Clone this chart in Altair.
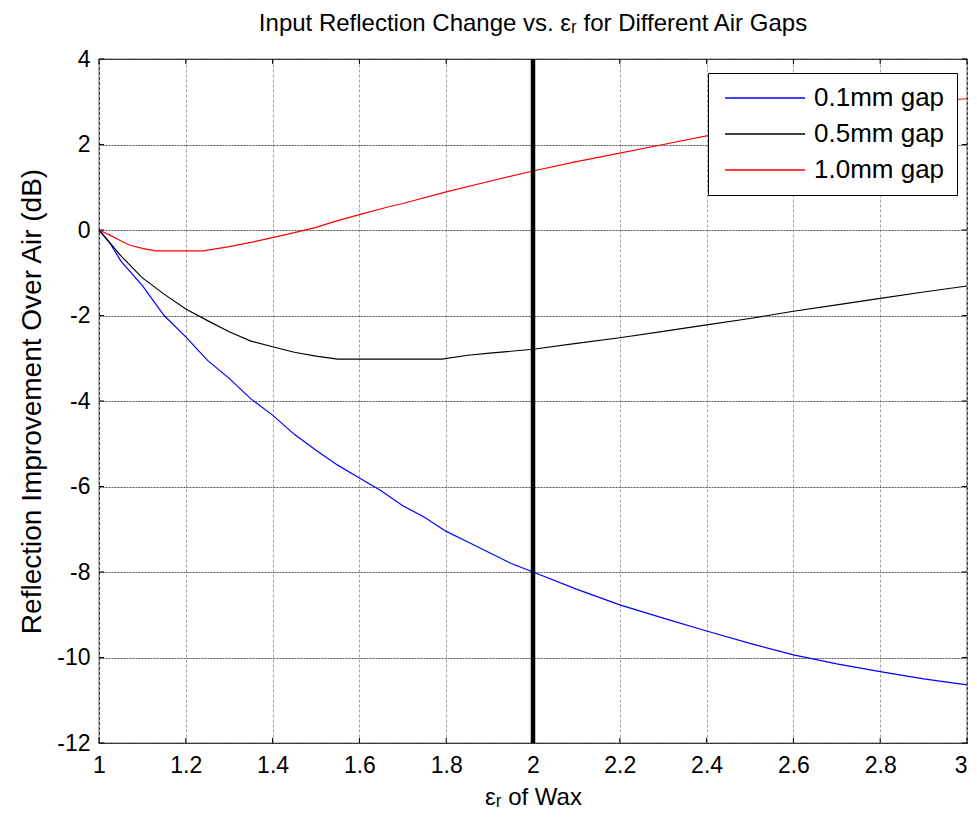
import altair as alt
import pandas as pd

# ---- data ----
x_01 = [1.0, 1.025, 1.05, 1.1, 1.15, 1.2, 1.25, 1.3, 1.35, 1.4, 1.45, 1.5, 1.55, 1.6, 1.65,
        1.7, 1.75, 1.8, 1.85, 1.9, 1.95, 2.0, 2.1, 2.2, 2.3, 2.4, 2.5, 2.6, 2.7, 2.8, 2.9, 3.0]
y_01 = [0.0, -0.3, -0.72, -1.3, -2.0, -2.5, -3.05, -3.47, -3.95, -4.33, -4.78, -5.15, -5.5, -5.8, -6.1,
        -6.45, -6.72, -7.05, -7.3, -7.55, -7.8, -8.0, -8.4, -8.77, -9.08, -9.38, -9.67, -9.94, -10.15, -10.33, -10.5, -10.64]

x_05 = [1.0, 1.05, 1.1, 1.15, 1.2, 1.25, 1.3, 1.35, 1.4, 1.45, 1.5, 1.55, 1.6, 1.7, 1.79,
        1.85, 1.9, 2.0, 2.1, 2.2, 2.3, 2.4, 2.5, 2.6, 2.7, 2.8, 2.9, 3.0]
y_05 = [0.0, -0.6, -1.12, -1.5, -1.85, -2.12, -2.38, -2.6, -2.73, -2.86, -2.95, -3.02, -3.02, -3.02, -3.02,
        -2.93, -2.88, -2.79, -2.65, -2.52, -2.37, -2.22, -2.07, -1.9, -1.75, -1.6, -1.45, -1.31]

x_10 = [1.0, 1.025, 1.05, 1.07, 1.1, 1.13, 1.24, 1.3, 1.35, 1.4, 1.45, 1.5, 1.55, 1.6, 1.67,
        1.7, 1.8, 1.9, 2.0, 2.1, 2.2, 2.3, 2.4, 2.5, 2.6, 2.7, 2.8, 2.9, 3.0]
y_10 = [0.0, -0.12, -0.25, -0.35, -0.43, -0.49, -0.49, -0.39, -0.29, -0.18, -0.06, 0.06, 0.22, 0.36, 0.55,
        0.62, 0.89, 1.14, 1.38, 1.6, 1.8, 2.0, 2.2, 2.4, 2.58, 2.75, 2.9, 3.0, 3.07]

series_names = ["0.1mm gap", "0.5mm gap", "1.0mm gap"]
series_colors = ["#0000ff", "#000000", "#ff0000"]

x_ticks = [1, 1.2, 1.4, 1.6, 1.8, 2, 2.2, 2.4, 2.6, 2.8, 3]
y_ticks = [-12, -10, -8, -6, -4, -2, 0, 2, 4]
marker_x = [2]

X_MIN, X_MAX = 1, 3
Y_MIN, Y_MAX = -12, 4

rows = []
for name, xs, ys in zip(series_names, [x_01, x_05, x_10], [y_01, y_05, y_10]):
    for i, (a, b) in enumerate(zip(xs, ys)):
        rows.append({"series": name, "order": i, "x": a, "y": b})
df = pd.DataFrame(rows)

FONT = "Arial"
xscale = alt.Scale(domain=[X_MIN, X_MAX], nice=False, zero=False)
yscale = alt.Scale(domain=[Y_MIN, Y_MAX], nice=False, zero=False)

x_axis = alt.Axis(values=x_ticks, format="~g", title="\u03b5\u1d63 of Wax",
                  grid=True, gridColor="#a0a0a0", gridDash=[3, 2], gridWidth=1,
                  tickSize=0, domain=False, labelPadding=11, labelFontSize=23,
                  labelAlign={"condition": {"test": "datum.value >= 3", "value": "right"},
                              "value": "center"},
                  labelFont=FONT, labelColor="black", titleFont=FONT, titleFontSize=24,
                  titleFontWeight="normal", titleColor="black", titlePadding=8)
y_axis = alt.Axis(values=y_ticks, title="Reflection Improvement Over Air (dB)",
                  labelExpr="replace(datum.label, '\u2212', '-')",
                  grid=True, gridColor="#555555", gridDash=[2, 1], gridWidth=1,
                  tickSize=0, domain=False, labelPadding=9, labelFontSize=23,
                  labelFont=FONT, labelColor="black", titleFont=FONT, titleFontSize=28,
                  titleFontWeight="normal", titleColor="black", titlePadding=10)

lines = alt.Chart(df).mark_line(strokeWidth=1.2, interpolate="linear").encode(
    x=alt.X("x:Q", scale=xscale, axis=x_axis),
    y=alt.Y("y:Q", scale=yscale, axis=y_axis),
    color=alt.Color("series:N",
                    scale=alt.Scale(domain=series_names, range=series_colors),
                    legend=alt.Legend(orient="none", legendX=609, legendY=14, title=None,
                                      symbolType="M-1.6,0H14.4", symbolSize=100,
                                      symbolStrokeWidth=1.5, labelFontSize=26,
                                      labelFont=FONT, labelColor="black",
                                      labelOffset=68, rowPadding=10, padding=12,
                                      strokeColor="black", fillColor="white")),
    order="order:Q",
    detail="series:N",
)

marker = alt.Chart(pd.DataFrame({"x": marker_x})).mark_rule(
    color="black", strokeWidth=4.5).encode(x=alt.X("x:Q", scale=xscale))

# inward tick marks on all four sides
tk = 0.12   # tick length in y units
tkx = 0.012  # tick length in x units
bt = pd.DataFrame({"x": x_ticks})
lt = pd.DataFrame({"y": y_ticks})
bottom_ticks = alt.Chart(bt).mark_rule(color="black").encode(
    x=alt.X("x:Q", scale=xscale), y=alt.datum(Y_MIN), y2=alt.datum(Y_MIN + tk))
top_ticks = alt.Chart(bt).mark_rule(color="black").encode(
    x=alt.X("x:Q", scale=xscale), y=alt.datum(Y_MAX), y2=alt.datum(Y_MAX - tk))
left_ticks = alt.Chart(lt).mark_rule(color="black").encode(
    y=alt.Y("y:Q", scale=yscale), x=alt.datum(X_MIN), x2=alt.datum(X_MIN + tkx))
right_ticks = alt.Chart(lt).mark_rule(color="black").encode(
    y=alt.Y("y:Q", scale=yscale), x=alt.datum(X_MAX), x2=alt.datum(X_MAX - tkx))

chart = alt.layer(lines, marker, bottom_ticks, top_ticks, left_ticks, right_ticks).properties(
    width=868, height=684,
    title=alt.TitleParams("Input Reflection Change vs. \u03b5\u1d63 for Different Air Gaps",
                          font=FONT, fontSize=24, fontWeight="normal", color="black",
                          anchor="middle", offset=12),
    autosize=alt.AutoSizeParams(type="none"),
    padding={"left": 91, "top": 51, "right": 2, "bottom": 72},
    background="white",
).configure_view(stroke="black", strokeWidth=1.2)

chart.save("out.html", embed_options={"renderer": "svg", "actions": False})
